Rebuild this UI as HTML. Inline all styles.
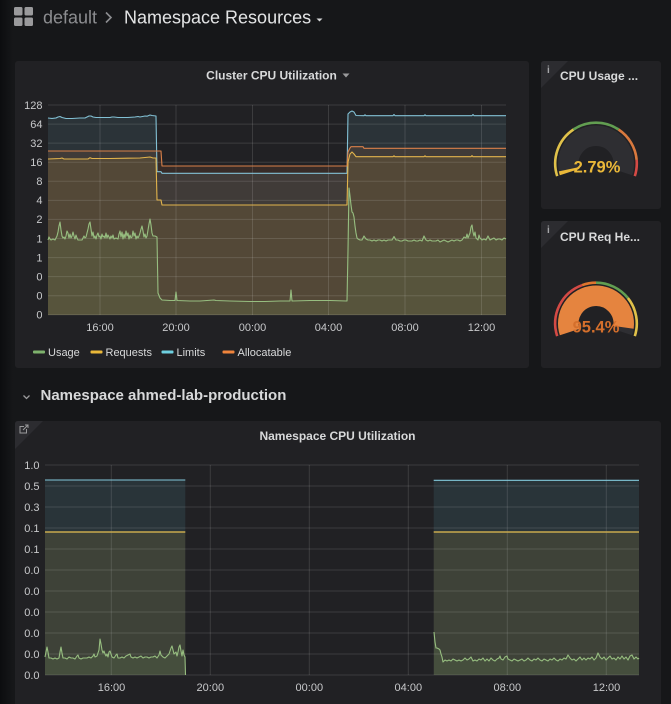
<!DOCTYPE html>
<html><head><meta charset="utf-8"><style>
html,body{margin:0;padding:0;background:#161719;width:671px;height:704px;overflow:hidden}
svg{display:block}
text{font-family:"Liberation Sans",sans-serif}
</style></head><body>
<svg width="671" height="704" viewBox="0 0 671 704" xmlns="http://www.w3.org/2000/svg">
<defs>
<linearGradient id="lg" x1="0" x2="1" y1="0" y2="0">
<stop offset="0" stop-color="#0c0d0f"/><stop offset="1" stop-color="#161719"/>
</linearGradient>
</defs>
<rect x="0" y="0" width="671" height="704" fill="#161719"/>
<rect x="0" y="0" width="13" height="704" fill="url(#lg)"/>

<!-- header -->
<g fill="#9a9a9c">
<rect x="14" y="7" width="8.5" height="8.5" rx="1.5"/><rect x="24.5" y="7" width="8.5" height="8.5" rx="1.5"/>
<rect x="14" y="17.5" width="8.5" height="8.5" rx="1.5"/><rect x="24.5" y="17.5" width="8.5" height="8.5" rx="1.5"/>
</g>
<text x="43" y="23.5" font-size="18" fill="#8c8d90">default</text>
<path d="M106 12.5 L111 17.5 L106 22.5" fill="none" stroke="#8c8d90" stroke-width="1.6"/>
<text x="124" y="23.5" font-size="18" fill="#e3e4e5">Namespace Resources</text>
<path d="M316.5 18.5 L322.5 18.5 L319.5 21.5 Z" fill="#d8d9da"/>

<!-- panel 1 -->
<rect x="15" y="61" width="514" height="307" rx="3" fill="#212124"/>
<text x="271.5" y="79.5" font-size="12" font-weight="bold" fill="#d8d9da" text-anchor="middle">Cluster CPU Utilization</text>
<path d="M342.5 73.5 L349.5 73.5 L346 77.5 Z" fill="#9a9a9c"/>

<!-- chart 1 fills -->
<g fill-opacity="0.11" stroke="none">
<polygon fill="#7ec6da" points="48,118 60,116.5 66,118.5 85,118 89,116 93,117 110,117.5 138,116.5 147,116 150,115 156,116 157,171.7 161,171.7 162,173.3 347,173.3 348,114 350,112 352,111 354,112 356,115.5 506,115.7 506,315 48,315"/>
<polygon fill="#ef843c" points="48,151 161,151 162,166 347,166 348,152 350,148 351,146.7 363,146.7 364,148.3 506,148.3 506,315 48,315"/>
<polygon fill="#eab839" points="48,159 60,158.5 62,158 64,159 88,159 90,157.7 92,158.5 110,158.5 140,158 150,157 156,158 157,200 161,200 162,205 347,205 348,162 350,154 352,152 354,154 356,156.7 506,156.7 506,315 48,315"/>
<polygon fill="#7eb26d" points="48,240 49,237 50,239 51,240 53,239 55,240 56,238 57,236 58,232 59,226 60,222 61,230 62,236 63,238 64,237 65,239 66,236 67,231 68,233 69,238 70,234 71,238 72,236 73,232 74,236 75,239 76,235 77,238 78,240 80,240 82,240 83,238 84,236 85,238 86,237 87,233 88,229 89,224 90,222 91,229 92,236 93,232 94,238 95,236 96,239 97,235 98,233 99,237 100,236 101,239 102,234 103,237 104,236 105,238 106,233 107,238 108,235 109,237 110,239 111,236 112,238 113,235 114,239 116,238 118,239 119,234 120,231 121,237 122,232 123,239 124,234 125,238 126,231 127,236 128,233 129,239 130,235 131,238 132,237 133,231 134,236 135,233 136,239 137,236 138,238 139,236 140,233 141,229 142,226 143,231 144,237 145,234 146,238 147,236 148,230 149,224 150,219 151,225 152,233 153,236 155,236 157,237 158,293 160,298 162,300 170,300.5 175,300.5 176,292 177,300.5 190,301 200,301 214,300 216,300.5 230,301 250,301.5 265,301.5 280,301 290,301 291,290 292,301 310,300.5 330,300.5 347,301 348,250 349,188 350,196 351,205 352,212 353,213 354,217 355,226 356,233 357,238 358,239 360,240 362,240 364,236 366,239 368,240 370,240 372,241 374,240 376,241 378,240 380,240 382,241 384,240 386,241 388,240 390,240 392,240 394,236.5 396,240 398,240 400,241 402,241 404,240 406,240 408,241 410,241 412,241 414,240 416,241 418,241 420,240 422,241 424,236 426,240 428,241 430,240 432,241 434,241 436,241 438,240 440,242 442,241 444,240 446,241 448,242 450,241 452,240 454,241 456,240 458,240 460,241 462,240 464,237 466,238 467,234 468,238 470,233 471,227 472,225 473,232 474,236 475,232 476,238 478,240 479,235 480,238 482,240 484,239 486,240 488,236 490,240 492,239 494,238 496,240 498,239 500,239 502,240 504,238 506,239 506,315 48,315"/>
</g>

<!-- chart 1 grid -->
<g stroke="#ffffff" stroke-opacity="0.12" stroke-width="1">
<line x1="48" y1="105" x2="506" y2="105"/><line x1="48" y1="124.1" x2="506" y2="124.1"/>
<line x1="48" y1="143.1" x2="506" y2="143.1"/><line x1="48" y1="162.2" x2="506" y2="162.2"/>
<line x1="48" y1="181.3" x2="506" y2="181.3"/><line x1="48" y1="200.4" x2="506" y2="200.4"/>
<line x1="48" y1="219.4" x2="506" y2="219.4"/><line x1="48" y1="238.5" x2="506" y2="238.5"/>
<line x1="48" y1="257.6" x2="506" y2="257.6"/><line x1="48" y1="276.6" x2="506" y2="276.6"/>
<line x1="48" y1="295.7" x2="506" y2="295.7"/><line x1="48" y1="314.8" x2="506" y2="314.8"/>
<line x1="100" y1="105" x2="100" y2="315"/><line x1="176" y1="105" x2="176" y2="315"/>
<line x1="252.5" y1="105" x2="252.5" y2="315"/><line x1="328.5" y1="105" x2="328.5" y2="315"/>
<line x1="405" y1="105" x2="405" y2="315"/><line x1="481.5" y1="105" x2="481.5" y2="315"/>
</g>

<!-- chart 1 lines -->
<g fill="none" stroke-width="1.1" stroke-linejoin="round">
<polyline stroke="#82c0d4" points="48,118 52,118.5 56,118 58,117 60,116.5 62,117.5 66,118.5 72,118.5 80,118 85,118 87,117 89,116 91,116 93,117 96,117.5 110,117.5 112,117 114,117 118,117.5 128,117.5 135,117 138,116.5 140,117 145,116 147,116.2 150,115 152,115.5 156,116 157,171.7 161,171.7 162,173.3 347,173.3 348,114 350,112 352,111 354,112 356,115.5 364,115.7 365,114.8 366,115.7 393,115.7 394,114.5 395,115.7 424,115.7 425,114.8 426,115.7 472,115.7 473,114.5 474,115.7 506,115.7"/>
<polyline stroke="#d98049" points="48,151 161,151 162,166 347,166 348,152 350,148 351,146.7 363,146.7 364,148.3 506,148.3"/>
<polyline stroke="#e2b44c" points="48,159 60,158.5 62,158 64,159 88,159 90,157.7 92,158.5 110,158.5 140,158 145,157.5 150,157 153,158 156,158 157,200 161,200 162,205 347,205 348,162 350,154 352,152 354,154 356,156.7 393,156.7 394,155.8 395,156.7 424,156.7 425,155.8 426,156.7 471,156.7 472,155.6 473,156.7 506,156.7"/>
<polyline stroke="#97be80" points="48,240 49,237 50,239 51,240 53,239 55,240 56,238 57,236 58,232 59,226 60,222 61,230 62,236 63,238 64,237 65,239 66,236 67,231 68,233 69,238 70,234 71,238 72,236 73,232 74,236 75,239 76,235 77,238 78,240 80,240 82,240 83,238 84,236 85,238 86,237 87,233 88,229 89,224 90,222 91,229 92,236 93,232 94,238 95,236 96,239 97,235 98,233 99,237 100,236 101,239 102,234 103,237 104,236 105,238 106,233 107,238 108,235 109,237 110,239 111,236 112,238 113,235 114,239 116,238 118,239 119,234 120,231 121,237 122,232 123,239 124,234 125,238 126,231 127,236 128,233 129,239 130,235 131,238 132,237 133,231 134,236 135,233 136,239 137,236 138,238 139,236 140,233 141,229 142,226 143,231 144,237 145,234 146,238 147,236 148,230 149,224 150,219 151,225 152,233 153,236 155,236 157,237 158,293 160,298 162,300 170,300.5 175,300.5 176,292 177,300.5 190,301 200,301 214,300 216,300.5 230,301 250,301.5 265,301.5 280,301 290,301 291,290 292,301 310,300.5 330,300.5 347,301 348,250 349,188 350,196 351,205 352,212 353,213 354,217 355,226 356,233 357,238 358,239 360,240 362,240 364,236 366,239 368,240 370,240 372,241 374,240 376,241 378,240 380,240 382,241 384,240 386,241 388,240 390,240 392,240 394,236.5 396,240 398,240 400,241 402,241 404,240 406,240 408,241 410,241 412,241 414,240 416,241 418,241 420,240 422,241 424,236 426,240 428,241 430,240 432,241 434,241 436,241 438,240 440,242 442,241 444,240 446,241 448,242 450,241 452,240 454,241 456,240 458,240 460,241 462,240 464,237 466,238 467,234 468,238 470,233 471,227 472,225 473,232 474,236 475,232 476,238 478,240 479,235 480,238 482,240 484,239 486,240 488,236 490,240 492,239 494,238 496,240 498,239 500,239 502,240 504,238 506,239"/>
</g>

<!-- chart 1 axis labels -->
<g font-size="11" fill="#c8c9cb" text-anchor="end">
<text x="42.5" y="109">128</text><text x="42.5" y="128">64</text><text x="42.5" y="147">32</text>
<text x="42.5" y="166">16</text><text x="42.5" y="185">8</text><text x="42.5" y="204">4</text>
<text x="42.5" y="223">2</text><text x="42.5" y="242.5">1</text><text x="42.5" y="261.5">1</text>
<text x="42.5" y="280.5">0</text><text x="42.5" y="299.5">0</text><text x="42.5" y="318.5">0</text>
</g>
<g font-size="11" fill="#c8c9cb" text-anchor="middle">
<text x="100" y="331">16:00</text><text x="176" y="331">20:00</text><text x="252.5" y="331">00:00</text>
<text x="328.5" y="331">04:00</text><text x="405" y="331">08:00</text><text x="481.5" y="331">12:00</text>
</g>
<!-- legend -->
<rect x="33" y="350.5" width="12" height="3" rx="1" fill="#7eb26d"/>
<text x="48" y="356" font-size="11" fill="#d8d9da">Usage</text>
<rect x="90.5" y="350.5" width="12" height="3" rx="1" fill="#eab839"/>
<text x="105.5" y="356" font-size="11" fill="#d8d9da">Requests</text>
<rect x="161.5" y="350.5" width="12" height="3" rx="1" fill="#6ed0e0"/>
<text x="176.5" y="356" font-size="11" fill="#d8d9da">Limits</text>
<rect x="222.5" y="350.5" width="12" height="3" rx="1" fill="#ef843c"/>
<text x="237.5" y="356" font-size="11" fill="#d8d9da">Allocatable</text>

<!-- gauge panel 1 -->
<rect x="541" y="61" width="120" height="148" rx="3" fill="#212124"/>
<path d="M541 64 Q541 61 544 61 L568 61 L541 88 Z" fill="#2c2c30"/>
<text x="547" y="73" font-size="10" font-weight="bold" fill="#a5a6a9" font-family="Liberation Serif,serif">i</text>
<text x="560" y="80" font-size="12" font-weight="bold" fill="#d8d9da">CPU Usage ...</text>
<g fill="none">
<path d="M569.61 172.08 A27.75 27.75 0 1 1 622.39 172.08" stroke="#2e2e32" stroke-width="20.5"/>
<path d="M569.61 172.08 A27.75 27.75 0 0 1 568.86 169.27" stroke="#eab839" stroke-width="20.5"/>
<path d="M557.2 176.11 A40.8 40.8 0 0 1 573.48 129.48" stroke="#e0c14a" stroke-width="2.6"/>
<path d="M573.48 129.48 A40.8 40.8 0 0 1 618.52 129.48" stroke="#629e51" stroke-width="2.6"/>
<path d="M618.52 129.48 A40.8 40.8 0 0 1 636.64 159.94" stroke="#d9793e" stroke-width="2.6"/>
<path d="M636.64 159.94 A40.8 40.8 0 0 1 634.8 176.11" stroke="#d44a45" stroke-width="2.6"/>
</g>
<text x="597" y="172.5" font-size="16.5" font-weight="bold" fill="#eab839" text-anchor="middle">2.79%</text>

<!-- gauge panel 2 -->
<rect x="541" y="221" width="120" height="147" rx="3" fill="#212124"/>
<path d="M541 224 Q541 221 544 221 L568 221 L541 248 Z" fill="#2c2c30"/>
<text x="547" y="233" font-size="10" font-weight="bold" fill="#a5a6a9" font-family="Liberation Serif,serif">i</text>
<text x="560" y="241" font-size="12" font-weight="bold" fill="#d8d9da">CPU Req He...</text>
<g fill="none">
<path d="M569.61 332.08 A27.75 27.75 0 1 1 622.39 332.08" stroke="#2e2e32" stroke-width="20.5"/>
<path d="M569.61 332.08 A27.75 27.75 0 1 1 623.48 327.36" stroke="#e5843f" stroke-width="20.5"/>
<path d="M557.2 336.11 A40.8 40.8 0 0 1 582.05 285.16" stroke="#d44a45" stroke-width="2.6"/>
<path d="M582.05 285.16 A40.8 40.8 0 0 1 596 282.7" stroke="#e0752d" stroke-width="2.6"/>
<path d="M596 282.7 A40.8 40.8 0 0 1 627.93 298.1" stroke="#629e51" stroke-width="2.6"/>
<path d="M627.93 298.1 A40.8 40.8 0 0 1 634.8 336.11" stroke="#e0c14a" stroke-width="2.6"/>
</g>
<text x="596" y="332.5" font-size="16.5" font-weight="bold" fill="#d46f2c" text-anchor="middle">95.4%</text>

<!-- row title -->
<path d="M23.5 395.5 L26.5 398.5 L29.5 395.5" fill="none" stroke="#9a9a9c" stroke-width="1.3"/>
<text x="40.5" y="400" font-size="15" font-weight="bold" fill="#d8d9da">Namespace ahmed-lab-production</text>

<!-- panel 2 -->
<rect x="15" y="421" width="646" height="290" rx="3" fill="#212124"/>
<path d="M15 424 Q15 421 18 421 L43 421 L15 449 Z" fill="#2c2c30"/>
<g fill="none" stroke="#9a9a9c" stroke-width="1">
<path d="M24 426.5 L20 426.5 L20 433 L26.5 433 L26.5 429"/>
<path d="M23 430 L28 425 M25 425 L28 425 L28 428"/>
</g>
<text x="337.5" y="440" font-size="12" font-weight="bold" fill="#d8d9da" text-anchor="middle">Namespace CPU Utilization</text>

<!-- chart 2 fills -->
<g fill-opacity="0.11">
<rect x="45" y="480" width="140.3" height="195" fill="#6ed0e0"/>
<rect x="433.7" y="480" width="205.3" height="195" fill="#6ed0e0"/>
<rect x="45" y="532" width="140.3" height="143" fill="#eab839"/>
<rect x="433.7" y="532" width="205.3" height="143" fill="#eab839"/>
<polygon fill="#7eb26d" points="45,657 46,652 47,647 48,652 49,658 51,658 53,659 55,658 57,659 59,658 60,652 61,647 62,653 63,658 65,658 67,659 69,657 71,658 73,658 75,659 77,656 78,655 79,658 81,659 83,658 85,658 87,658 89,657 91,658 93,656 94,654 95,657 97,656 99,650 100,639 101,644 102,650 103,653 104,651 105,654 106,656 107,654 108,657 109,652 110,651 111,654 112,657 114,658 116,655 117,654 118,658 120,658 122,657 124,658 126,656 128,655 130,654 131,657 133,658 135,657 137,658 139,657 141,656 143,658 145,657 147,657 149,658 151,657 153,657 155,656 157,658 159,655 160,651 161,655 163,657 165,658 167,656 169,654 171,648 172,646 173,650 174,654 176,652 177,656 178,652 179,647 180,645 181,651 182,656 183,650 184,655 185,657 185.5,675 45,675"/>
<polygon fill="#7eb26d" points="434,632 435,642 436,648 437,648 439,649 440,650 441,654 442,657 443,662 445,660 447,661 449,660 451,661 453,659 455,660 457,661 459,660 461,661 463,660 465,658 467,660 469,659 471,657 473,661 475,660 477,661 479,659 481,660 483,658 485,661 487,659 489,661 491,658 493,660 495,661 497,659 499,658 500,656 501,659 503,660 505,657 507,656 508,659 510,660 512,661 514,659 516,660 518,661 520,660 522,659 524,661 526,660 528,658 530,660 532,661 534,659 536,660 538,658 540,660 542,661 544,659 546,660 548,661 550,659 552,660 554,658 556,660 558,661 560,659 562,660 564,658 566,659 568,655 570,658 572,660 574,659 576,661 578,659 580,657 582,660 584,658 586,660 588,658 590,659 592,657 594,660 596,658 598,653 600,657 602,659 604,657 606,660 608,658 610,656 612,659 614,658 616,660 618,657 620,659 622,656 624,659 626,657 628,660 630,656 632,655 634,659 636,657 638,659 639,658 639,675 434,675"/>
</g>

<!-- chart 2 grid -->
<g stroke="#ffffff" stroke-opacity="0.12" stroke-width="1">
<line x1="45" y1="465" x2="639" y2="465"/><line x1="45" y1="486" x2="639" y2="486"/>
<line x1="45" y1="507" x2="639" y2="507"/><line x1="45" y1="528" x2="639" y2="528"/>
<line x1="45" y1="549" x2="639" y2="549"/><line x1="45" y1="570" x2="639" y2="570"/>
<line x1="45" y1="591" x2="639" y2="591"/><line x1="45" y1="612" x2="639" y2="612"/>
<line x1="45" y1="633" x2="639" y2="633"/><line x1="45" y1="654" x2="639" y2="654"/>
<line x1="45" y1="675" x2="639" y2="675"/>
<line x1="111.3" y1="465" x2="111.3" y2="675"/><line x1="210.3" y1="465" x2="210.3" y2="675"/>
<line x1="309.3" y1="465" x2="309.3" y2="675"/><line x1="408.3" y1="465" x2="408.3" y2="675"/>
<line x1="507.3" y1="465" x2="507.3" y2="675"/><line x1="606.3" y1="465" x2="606.3" y2="675"/>
</g>

<!-- chart 2 lines -->
<g fill="none" stroke-width="1.1" stroke-linejoin="round">
<line x1="45" y1="480" x2="185.3" y2="480" stroke="#82c8da"/>
<line x1="433.7" y1="480.3" x2="639" y2="480.3" stroke="#82c8da"/>
<line x1="45" y1="532" x2="185.3" y2="532" stroke="#c9a94e" stroke-width="1.6"/>
<line x1="433.7" y1="532" x2="639" y2="532" stroke="#c9a94e" stroke-width="1.6"/>
<polyline stroke="#97be80" points="45,657 46,652 47,647 48,652 49,658 51,658 53,659 55,658 57,659 59,658 60,652 61,647 62,653 63,658 65,658 67,659 69,657 71,658 73,658 75,659 77,656 78,655 79,658 81,659 83,658 85,658 87,658 89,657 91,658 93,656 94,654 95,657 97,656 99,650 100,639 101,644 102,650 103,653 104,651 105,654 106,656 107,654 108,657 109,652 110,651 111,654 112,657 114,658 116,655 117,654 118,658 120,658 122,657 124,658 126,656 128,655 130,654 131,657 133,658 135,657 137,658 139,657 141,656 143,658 145,657 147,657 149,658 151,657 153,657 155,656 157,658 159,655 160,651 161,655 163,657 165,658 167,656 169,654 171,648 172,646 173,650 174,654 176,652 177,656 178,652 179,647 180,645 181,651 182,656 183,650 184,655 185,657 185.5,675"/>
<polyline stroke="#97be80" points="434,632 435,642 436,648 437,648 439,649 440,650 441,654 442,657 443,662 445,660 447,661 449,660 451,661 453,659 455,660 457,661 459,660 461,661 463,660 465,658 467,660 469,659 471,657 473,661 475,660 477,661 479,659 481,660 483,658 485,661 487,659 489,661 491,658 493,660 495,661 497,659 499,658 500,656 501,659 503,660 505,657 507,656 508,659 510,660 512,661 514,659 516,660 518,661 520,660 522,659 524,661 526,660 528,658 530,660 532,661 534,659 536,660 538,658 540,660 542,661 544,659 546,660 548,661 550,659 552,660 554,658 556,660 558,661 560,659 562,660 564,658 566,659 568,655 570,658 572,660 574,659 576,661 578,659 580,657 582,660 584,658 586,660 588,658 590,659 592,657 594,660 596,658 598,653 600,657 602,659 604,657 606,660 608,658 610,656 612,659 614,658 616,660 618,657 620,659 622,656 624,659 626,657 628,660 630,656 632,655 634,659 636,657 638,659 639,658"/>
</g>

<!-- chart 2 labels -->
<g font-size="11" fill="#c8c9cb" text-anchor="end">
<text x="39.5" y="469">1.0</text><text x="39.5" y="490">0.5</text><text x="39.5" y="511">0.3</text>
<text x="39.5" y="532">0.1</text><text x="39.5" y="553">0.1</text><text x="39.5" y="574">0.0</text>
<text x="39.5" y="595">0.0</text><text x="39.5" y="616">0.0</text><text x="39.5" y="637">0.0</text>
<text x="39.5" y="658">0.0</text><text x="39.5" y="679">0.0</text>
</g>
<g font-size="11" fill="#c8c9cb" text-anchor="middle">
<text x="111.5" y="691">16:00</text><text x="210.3" y="691">20:00</text><text x="309.3" y="691">00:00</text>
<text x="408.3" y="691">04:00</text><text x="507.3" y="691">08:00</text><text x="606.5" y="691">12:00</text>
</g>
</svg>
</body></html>
